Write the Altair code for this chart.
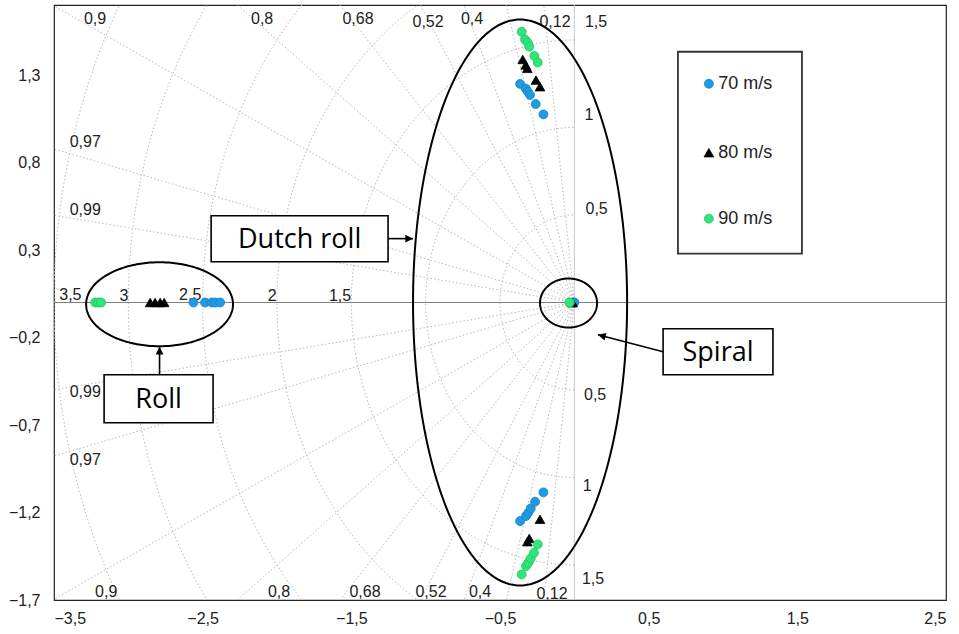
import altair as alt
import numpy as np
import pandas as pd

# ---------------- data ----------------
speeds = ["70 m/s", "80 m/s", "90 m/s"]
speed_fill = ["#1E9BE2", "#000000", "#2FE67B"]
speed_edge = ["#1583C4", "#000000", "#20C45F"]
speed_shape = ["circle", "triangle-up", "circle"]
speed_size = [80, 95, 80]

# Dutch roll, upper branch (real, imag)
dr_up_re = {
    "70 m/s": [-0.365, -0.327, -0.313, -0.298, -0.260, -0.208],
    "80 m/s": [-0.347, -0.327, -0.316, -0.258, -0.231],
    "90 m/s": [-0.354, -0.332, -0.313, -0.303, -0.269, -0.246],
}
dr_up_im = {
    "70 m/s": [1.249, 1.223, 1.205, 1.186, 1.134, 1.075],
    "80 m/s": [1.389, 1.357, 1.338, 1.271, 1.233],
    "90 m/s": [1.547, 1.503, 1.485, 1.462, 1.409, 1.372],
}
# Dutch roll, lower branch
dr_lo_re = {
    "70 m/s": [-0.365, -0.325, -0.309, -0.293, -0.264, -0.208],
    "80 m/s": [-0.316, -0.303, -0.231],
    "90 m/s": [-0.354, -0.325, -0.309, -0.293, -0.271, -0.246],
}
dr_lo_im = {
    "70 m/s": [-1.249, -1.220, -1.201, -1.177, -1.138, -1.085],
    "80 m/s": [-1.367, -1.348, -1.239],
    "90 m/s": [-1.554, -1.506, -1.487, -1.462, -1.430, -1.382],
}
# Roll (real poles)
roll_re = {
    "70 m/s": [-2.562, -2.484, -2.438, -2.416, -2.383],
    "80 m/s": [-2.853, -2.820, -2.786, -2.759],
    "90 m/s": [-3.223, -3.201, -3.183],
}
# Spiral (real poles near origin)
spiral_re = {
    "70 m/s": [0.0, -0.004],
    "80 m/s": [-0.012, -0.015],
    "90 m/s": [-0.030, -0.034],
}

# s-plane grid values
zeta_values = [0.12, 0.26, 0.4, 0.52, 0.68, 0.8, 0.9, 0.97, 0.99]
wn_values = [0.5, 1.0, 1.5, 2.0, 2.5, 3.0, 3.5]

# grid labels
zeta_lab_text = ["0,9", "0,8", "0,68", "0,52", "0,4", "0,12",
                 "0,9", "0,8", "0,68", "0,52", "0,4", "0,12",
                 "0,97", "0,99", "0,99", "0,97"]
zeta_lab_x = [-3.224, -2.10, -1.455, -0.984, -0.688, -0.130,
              -3.149, -1.986, -1.408, -0.964, -0.634, -0.150,
              -3.29, -3.29, -3.29, -3.29]
zeta_lab_y = [1.622, 1.622, 1.622, 1.605, 1.622, 1.605,
              -1.656, -1.656, -1.656, -1.656, -1.656, -1.665,
              0.919, 0.530, -0.509, -0.898]
wn_lab_text = ["3,5", "3", "2,5", "2", "1,5",
               "1,5", "1", "0,5", "0,5", "1", "1,5"]
wn_lab_x = [-3.39, -3.03, -2.584, -2.033, -1.576,
            0.146, 0.099, 0.150, 0.140, 0.087, 0.126]
wn_lab_y = [0.045, 0.040, 0.045, 0.035, 0.040,
            1.604, 1.073, 0.536, -0.527, -1.047, -1.578]

# annotation ellipses: centre x, centre y, radius x, radius y
ell_names = ["Dutch roll", "Roll", "Spiral"]
ell_cx = [-0.365, -2.79, -0.039]
ell_cy = [0.0, -0.01, -0.003]
ell_rx = [0.72, 0.494, 0.192]
ell_ry = [1.617, 0.24, 0.14]

# annotation boxes
box_text = ["Dutch roll", "Roll", "Spiral"]
box_x1 = [-2.443, -3.163, 0.597]
box_x2 = [-1.253, -2.430, 1.336]
box_y1 = [0.496, -0.413, -0.150]
box_y2 = [0.233, -0.687, -0.413]
# arrows: tail -> head
arr_x1 = [-1.253, -2.79, 0.597]
arr_y1 = [0.365, -0.413, -0.281]
arr_x2 = [-1.085, -2.79, 0.159]
arr_y2 = [0.365, -0.253, -0.184]
arr_angle = [0, 270, 195]

# legend box and entries
leg_x1, leg_x2, leg_y1, leg_y2 = 0.697, 1.531, 1.433, 0.279
leg_sym_x = 0.905
leg_txt_x = 0.968
leg_y = [1.250, 0.856, 0.479]

X_DOMAIN = [-3.5, 2.5]
Y_DOMAIN = [-1.7, 1.7]
x_ticks = [-3.5, -2.5, -1.5, -0.5, 0.5, 1.5, 2.5]
y_ticks = [-1.7, -1.2, -0.7, -0.2, 0.3, 0.8, 1.3]

# ---------------- tables ----------------
size_of = dict(zip(speeds, speed_size))
rows = []
for s in speeds:
    for r, i in zip(dr_up_re[s], dr_up_im[s]):
        rows.append({"re": r, "im": i, "speed": s})
    for r, i in zip(dr_lo_re[s], dr_lo_im[s]):
        rows.append({"re": r, "im": i, "speed": s})
    for r in roll_re[s]:
        rows.append({"re": r, "im": 0.0, "speed": s})
    for r in spiral_re[s]:
        rows.append({"re": r, "im": 0.0, "speed": s})
poles = pd.DataFrame(rows)
poles["sz"] = poles["speed"].map(size_of)

ray_rows = []
R = 4.2
for k, z in enumerate(zeta_values):
    for sgn in (1, -1):
        for t in (0.0, R):
            ray_rows.append({"id": f"{k}_{sgn}", "x": -t * z,
                             "y": sgn * t * np.sqrt(1 - z * z), "o": t})
rays = pd.DataFrame(ray_rows)

circ_rows = []
phis = np.linspace(-np.pi / 2, np.pi / 2, 181)
for w in wn_values:
    for j, p in enumerate(phis):
        circ_rows.append({"id": w, "x": -w * np.cos(p), "y": w * np.sin(p), "o": j})
circles = pd.DataFrame(circ_rows)

ell_rows = []
ths = np.linspace(0, 2 * np.pi, 241)
for n, cx, cy, rx, ry in zip(ell_names, ell_cx, ell_cy, ell_rx, ell_ry):
    for j, t in enumerate(ths):
        ell_rows.append({"id": n, "x": cx + rx * np.cos(t), "y": cy + ry * np.sin(t), "o": j})
ellipses = pd.DataFrame(ell_rows)

zlabels = pd.DataFrame({"t": zeta_lab_text, "x": zeta_lab_x, "y": zeta_lab_y})
wlabels = pd.DataFrame({"t": wn_lab_text, "x": wn_lab_x, "y": wn_lab_y})
boxes = pd.DataFrame({"t": box_text, "x1": box_x1, "x2": box_x2, "y1": box_y1, "y2": box_y2,
                      "cx": [(a + b) / 2 for a, b in zip(box_x1, box_x2)],
                      "cy": [(a + b) / 2 for a, b in zip(box_y1, box_y2)]})
arrows = pd.DataFrame({"x1": arr_x1, "y1": arr_y1, "x2": arr_x2, "y2": arr_y2, "a": arr_angle})
legbox = pd.DataFrame({"x1": [leg_x1], "x2": [leg_x2], "y1": [leg_y1], "y2": [leg_y2]})
legend = pd.DataFrame({"speed": speeds, "x": [leg_sym_x] * 3, "tx": [leg_txt_x] * 3, "y": leg_y,
                       "sz": speed_size})
axes_lines = pd.DataFrame({"x1": [X_DOMAIN[0], 0.0], "x2": [X_DOMAIN[1], 0.0],
                           "y1": [0.0, Y_DOMAIN[0]], "y2": [0.0, Y_DOMAIN[1]],
                           "c": ["h", "v"]})

label_expr = "replace(format(datum.value, '.1f'), '.', ',')"
xscale = alt.Scale(domain=X_DOMAIN, nice=False, zero=False)
yscale = alt.Scale(domain=Y_DOMAIN, nice=False, zero=False)


def X(field):
    return alt.X(field, type="quantitative", scale=xscale, title=None,
                 axis=alt.Axis(values=x_ticks, labelExpr=label_expr, labelPadding=10,
                               grid=False, ticks=False, domain=False))


def Y(field):
    return alt.Y(field, type="quantitative", scale=yscale, title=None,
                 axis=alt.Axis(values=y_ticks, labelExpr=label_expr, labelPadding=14,
                               grid=False, ticks=False, domain=False))


grid_style = dict(color="#bababa", strokeWidth=1, strokeDash=[1.5, 2.2], clip=True)

ray_layer = alt.Chart(rays).mark_line(**grid_style).encode(
    x=X("x"), y=Y("y"), detail="id:N", order="o:Q")
circ_layer = alt.Chart(circles).mark_line(**grid_style).encode(
    x=X("x"), y=Y("y"), detail="id:N", order="o:Q")

hline = alt.Chart(axes_lines[axes_lines.c == "h"]).mark_rule(color="#808080", strokeWidth=1).encode(
    x=X("x1"), x2="x2", y=Y("y1"), y2="y2")
vline = alt.Chart(axes_lines[axes_lines.c == "v"]).mark_rule(color="#c8c8c8", strokeWidth=1).encode(
    x=X("x1"), x2="x2", y=Y("y1"), y2="y2")

zlab_layer = alt.Chart(zlabels).mark_text(font="Liberation Sans", fontSize=16, color="#222",
                                          baseline="middle", align="center").encode(
    x=X("x"), y=Y("y"), text="t:N")
wlab_layer = alt.Chart(wlabels).mark_text(font="Liberation Sans", fontSize=16, color="#222",
                                          baseline="middle", align="center").encode(
    x=X("x"), y=Y("y"), text="t:N")

color_scale = alt.Scale(domain=speeds, range=speed_fill)
stroke_scale = alt.Scale(domain=speeds, range=speed_edge)
shape_scale = alt.Scale(domain=speeds, range=speed_shape)

pole_layer = alt.Chart(poles).mark_point(filled=True, opacity=1, strokeWidth=0.8).encode(
    x=X("re"), y=Y("im"),
    fill=alt.Fill("speed:N", scale=color_scale, legend=None),
    stroke=alt.Stroke("speed:N", scale=stroke_scale, legend=None),
    shape=alt.Shape("speed:N", scale=shape_scale, legend=None),
    size=alt.Size("sz:Q", scale=None),
)

ell_layer = alt.Chart(ellipses).mark_line(color="black", strokeWidth=2).encode(
    x=X("x"), y=Y("y"), detail="id:N", order="o:Q")

box_layer = alt.Chart(boxes).mark_rect(fill="white", stroke="black", strokeWidth=1.6).encode(
    x=X("x1"), x2="x2", y=Y("y1"), y2="y2")
box_text_layer = alt.Chart(boxes).mark_text(font="Open Sans", fontSize=27, color="black",
                                            baseline="middle", align="center", dy=1).encode(
    x=X("cx"), y=Y("cy"), text="t:N")

arrow_line = alt.Chart(arrows).mark_rule(color="black", strokeWidth=1.6).encode(
    x=X("x1"), x2="x2", y=Y("y1"), y2="y2")
arrow_head = alt.Chart(arrows).mark_point(shape="M0,0 L-1,-0.5 L-1,0.5 Z", filled=True,
                                          color="black", size=240, opacity=1).encode(
    x=X("x2"), y=Y("y2"), angle=alt.Angle("a:Q", scale=None))

leg_box_layer = alt.Chart(legbox).mark_rect(fill="white", stroke="#333", strokeWidth=1.8).encode(
    x=X("x1"), x2="x2", y=Y("y1"), y2="y2")
leg_sym_layer = alt.Chart(legend).mark_point(filled=True, opacity=1, strokeWidth=0.8).encode(
    x=X("x"), y=Y("y"),
    fill=alt.Fill("speed:N", scale=color_scale, legend=None),
    stroke=alt.Stroke("speed:N", scale=stroke_scale, legend=None),
    shape=alt.Shape("speed:N", scale=shape_scale, legend=None),
    size=alt.Size("sz:Q", scale=None),
)
leg_txt_layer = alt.Chart(legend).mark_text(font="Liberation Sans", fontSize=18, color="#222",
                                            baseline="middle", align="left").encode(
    x=X("tx"), y=Y("y"), text="speed:N")

chart = alt.layer(
    ray_layer, circ_layer, vline, hline, zlab_layer, wlab_layer,
    ell_layer, pole_layer, arrow_line, arrow_head, box_layer, box_text_layer,
    leg_box_layer, leg_sym_layer, leg_txt_layer,
).properties(
    width=892, height=595,
    autosize=alt.AutoSizeParams(type="none"),
    padding={"left": 54, "top": 5, "right": 13, "bottom": 34},
    background="white",
).configure_view(
    stroke="#222", strokeWidth=1.2
).configure_axis(
    labelFont="Liberation Sans", labelFontSize=16, labelColor="#222"
)

chart.save("out.html", embed_options={"renderer": "svg", "actions": False})
